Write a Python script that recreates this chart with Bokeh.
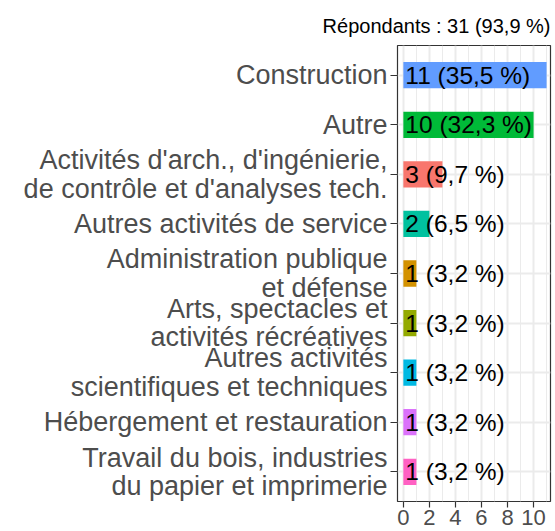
from bokeh.plotting import figure
from bokeh.models import ColumnDataSource, FixedTicker, Range1d
from bokeh.core.properties import value
from bokeh.embed import file_html
from bokeh.resources import INLINE

categories = [
    "Construction",
    "Autre",
    "Activités d'arch., d'ingénierie,\nde contrôle et d'analyses tech.",
    "Autres activités de service",
    "Administration publique\net défense",
    "Arts, spectacles et\nactivités récréatives",
    "Autres activités\nscientifiques et techniques",
    "Hébergement et restauration",
    "Travail du bois, industries\ndu papier et imprimerie",
]
counts = [11, 10, 3, 2, 1, 1, 1, 1, 1]
percents = [35.5, 32.3, 9.7, 6.5, 3.2, 3.2, 3.2, 3.2, 3.2]
colors = ["#619CFF", "#00BA38", "#F8766D", "#00C19F", "#D39200",
          "#93AA00", "#00B9E3", "#DB72FB", "#FF61C3"]
x_ticks = [0, 2, 4, 6, 8, 10]
x_minor = [1, 3, 5, 7, 9, 11]
title_text = "Répondants : 31 (93,9 %)"

positions = list(range(1, len(categories) + 1))
labels = ["%d (%s %%)" % (c, ("%.1f" % pc).replace(".", ",")) for c, pc in zip(counts, percents)]

src = ColumnDataSource(dict(pos=positions, n=counts, col=colors, lab=labels,
                            zero=[0] * len(counts)))

FONT = "Liberation Sans"

p = figure(width=555, height=531, output_backend="svg", toolbar_location=None,
           y_range=Range1d(9.6, 0.4),
           x_range=Range1d(-0.45, 11.3),
           min_border_left=397, min_border_right=5, min_border_top=45, min_border_bottom=30,
           title=title_text)

p.title.align = "right"
p.title.text_font = FONT
p.title.text_font_size = "20px"
p.title.text_font_style = "normal"
p.title.text_color = "black"
p.title.standoff = 18

p.background_fill_color = "white"
p.border_fill_color = "white"
p.outline_line_color = "#333333"
p.outline_line_width = 1.2

p.hbar(y="pos", left="zero", right="n", height=0.53, fill_color="col", line_color=None, source=src)
p.text(x="zero", y="pos", text="lab", source=src, text_font=value(FONT), text_font_size="24.5px",
       text_color="black", text_align="left", text_baseline="middle", x_offset=2)

ticker = FixedTicker(ticks=x_ticks, minor_ticks=x_minor)
p.xaxis.ticker = ticker
p.xgrid.ticker = ticker
p.xgrid.grid_line_color = "#EBEBEB"
p.xgrid.grid_line_width = 2
p.xgrid.minor_grid_line_color = "#EBEBEB"
p.xgrid.minor_grid_line_width = 1

yticker = FixedTicker(ticks=positions, minor_ticks=[])
p.yaxis.ticker = yticker
p.ygrid.ticker = yticker
p.ygrid.grid_line_color = "#EBEBEB"
p.ygrid.grid_line_width = 2
p.yaxis.major_label_overrides = {pos: lab for pos, lab in zip(positions, categories)}

for ax in (p.xaxis, p.yaxis):
    ax.axis_line_color = None
    ax.major_tick_line_color = "#333333"
    ax.major_tick_line_width = 1.2
    ax.minor_tick_line_color = None
    ax.major_tick_in = 0
    ax.major_label_text_font = FONT
    ax.major_label_text_color = "#4D4D4D"

p.xaxis.major_tick_out = 6
p.xaxis.major_label_text_font_size = "22px"
p.xaxis.major_label_standoff = 2
p.yaxis.major_tick_out = 7
p.yaxis.major_label_text_font_size = "27px"
p.yaxis.major_label_standoff = 3
p.yaxis.major_label_text_line_height = 0.95

open("out.html", "w").write(file_html(p, INLINE))
